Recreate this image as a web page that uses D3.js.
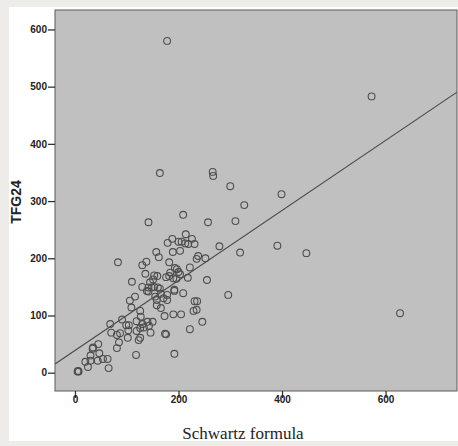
<!DOCTYPE html>
<html><head><meta charset="utf-8">
<script src="https://cdn.jsdelivr.net/npm/d3@7"></script>
<style>html,body{margin:0;padding:0;background:#edece8;}svg{display:block;}</style>
</head><body>
<script>
// Data (Schwartz formula vs TFG24)
const schwartz = [178,573,164,266,267,300,399,327,310,257,142,209,319,391,447,628,296,279,83,
179,188,200,206,214,226,219,231,213,157,162,189,203,138,130,182,238,235,252,
222,197,193,200,203,184,136,153,159,176,182,190,196,218,255,110,145,151,130,142,148,153,160,164,192,139,142,
209,166,178,192,178,158,171,155,116,106,231,236,229,235,158,109,166,126,173,190,205,127,91,119,140,150,246,
68,99,104,130,143,133,126,222,103,119,70,87,146,174,176,81,102,126,123,85,45,35,34,81,47,192,118,30,54,63,44,30,20,25,65,5,6,7];
const tfg24 = [580,483,349,351,344,326,312,293,265,263,263,276,210,222,209,104,136,221,193,
227,234,229,229,242,234,225,225,226,211,202,211,213,194,188,193,204,199,200,
184,181,183,176,172,175,173,170,169,167,169,165,164,166,162,159,158,163,150,149,149,150,149,147,145,143,142,
139,138,136,143,127,127,130,133,133,126,125,125,108,110,118,114,113,108,99,102,102,98,93,90,89,89,89,
85,83,83,85,82,79,78,76,74,73,70,69,70,68,67,66,61,61,57,53,50,44,42,43,34,33,31,30,24,24,21,21,19,10,8,2,3,2];
const xTicks = [0,200,400,600];
const yTicks = [0,100,200,300,400,500,600];
const fitIntercept = 38.8, fitSlope = 0.612;
const xLabel = "Schwartz formula", yLabel = "TFG24";

const W = 458, H = 446;
const svg = d3.select("body").append("svg").attr("width", W).attr("height", H);
svg.append("rect").attr("x",9).attr("y",7).attr("width",W-9).attr("height",434).attr("fill","#ffffff");

const L = 55, R = 457, T = 10, B = 391;
const x = d3.scaleLinear().domain([-38.6, 738]).range([L, R]);
const y = d3.scaleLinear().domain([-32, 634]).range([B, T]);

svg.append("rect").attr("x",L).attr("y",T).attr("width",R-L).attr("height",B-T)
  .attr("fill","#c0c0c0").attr("stroke","#5a5a5a").attr("stroke-width",1);

svg.append("clipPath").attr("id","clip").append("rect").attr("x",L).attr("y",T).attr("width",R-L).attr("height",B-T);

const g = svg.append("g").attr("clip-path","url(#clip)");
const xd = x.domain();
g.append("line")
  .attr("x1", x(xd[0])).attr("y1", y(fitIntercept + fitSlope*xd[0]))
  .attr("x2", x(xd[1])).attr("y2", y(fitIntercept + fitSlope*xd[1]))
  .attr("stroke","#4a4a4a").attr("stroke-width",1.1);

const pts = schwartz.map((v,i)=>({x:v,y:tfg24[i]}));
g.selectAll("circle").data(pts).enter().append("circle")
  .attr("cx",d=>x(d.x)).attr("cy",d=>y(d.y)).attr("r",3.4)
  .attr("fill","none").attr("stroke","#4d4d4d").attr("stroke-width",1.1);

const yAxis = svg.append("g").attr("transform",`translate(${L},0)`)
  .call(d3.axisLeft(y).tickValues(yTicks).tickSize(7).tickPadding(1).tickFormat(d3.format("d")));
const xAxis = svg.append("g").attr("transform",`translate(0,${B})`)
  .call(d3.axisBottom(x).tickValues(xTicks).tickSize(7).tickPadding(-2).tickFormat(d3.format("d")));
[yAxis,xAxis].forEach(a=>{
  a.select(".domain").remove();
  a.selectAll(".tick line").attr("stroke","#333").attr("stroke-width",1.3);
  a.selectAll("text").attr("font-family","Liberation Sans, Arial, sans-serif")
   .attr("font-weight","bold").attr("font-size",10).attr("fill","#222");
});

svg.append("text").attr("transform","translate(21,202) rotate(-90)")
  .attr("text-anchor","middle").attr("font-family","Liberation Sans, Arial, sans-serif")
  .attr("font-weight","bold").attr("font-size",14).attr("fill","#222").text(yLabel);

svg.append("text").attr("x",243).attr("y",439).attr("text-anchor","middle")
  .attr("font-family","Liberation Serif, Times New Roman, serif")
  .attr("font-size",17).attr("fill","#222").text(xLabel);
</script>
</body></html>
